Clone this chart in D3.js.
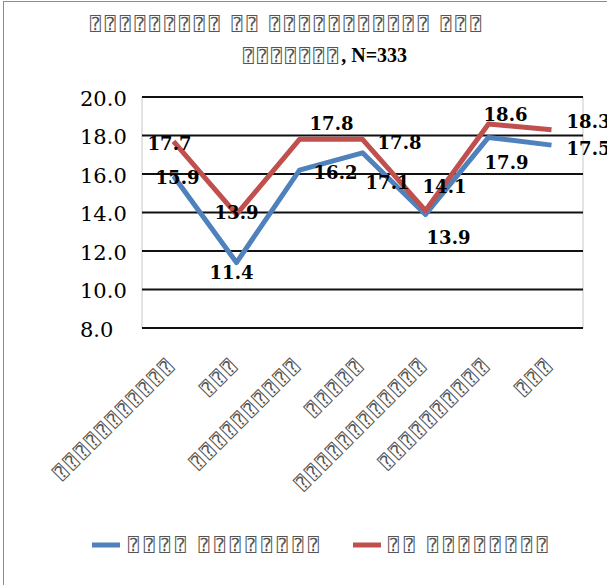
<!DOCTYPE html>
<html>
<head>
<meta charset="utf-8">
<script src="https://cdn.jsdelivr.net/npm/d3@7"></script>
<style>
  body { margin: 0; background: #fff; }
  svg { display: block; }
</style>
</head>
<body>
<svg id="chart" width="607" height="585"></svg>
<script>
// Categories along the x axis (glyphs the source font could not show)
const categories = [
  "⍰⍰⍰⍰⍰⍰⍰⍰⍰⍰⍰",
  "⍰⍰⍰",
  "⍰⍰⍰⍰⍰⍰⍰⍰⍰⍰",
  "⍰⍰⍰⍰⍰",
  "⍰⍰⍰⍰⍰⍰⍰⍰⍰⍰⍰⍰",
  "⍰⍰⍰⍰⍰⍰⍰⍰⍰⍰",
  "⍰⍰⍰"
];
// Series names and mean scores
const seriesNames = ["⍰⍰⍰⍰ ⍰⍰⍰⍰⍰⍰⍰⍰", "⍰⍰ ⍰⍰⍰⍰⍰⍰⍰⍰"];
const blueValues = [15.9, 11.4, 16.2, 17.1, 13.9, 17.9, 17.5];
const redValues  = [17.7, 13.9, 17.8, 17.8, 14.1, 18.6, 18.3];
// Y axis ticks
const yTicks = [8, 10, 12, 14, 16, 18, 20];
// Title: first line, then second line split into its two runs
const titleLine1 = "⍰⍰⍰⍰⍰⍰⍰⍰⍰ ⍰⍰ ⍰⍰⍰⍰⍰⍰⍰⍰⍰⍰⍰ ⍰⍰⍰";
const titleLine2 = ["⍰⍰⍰⍰⍰⍰⍰", ", N=333"];

// Label nudges (pixels from each point), kept apart from the data
const blueLabelShift = [[4, 2], [-5, 10], [36, 2], [25, 30], [23, 23], [18, 25], [37, 3]];
const redLabelShift  = [[-4, 2], [0, -2], [32, -16], [37, 3], [19, -24], [17, -9], [37, -8]];

const colors = ["#4F81BD", "#C0504D"];
const serif = "'DejaVu Serif', serif";
const boxFont = "'DejaVu Sans Mono', monospace";

const svg = d3.select("#chart");

// outer frame
svg.append("rect")
  .attr("x", 3.5).attr("y", 1.5)
  .attr("width", 640).attr("height", 640)
  .attr("fill", "#fff").attr("stroke", "#8c8c8c").attr("stroke-width", 1);

const plot = { left: 142, right: 583, top: 97, bottom: 328 };

// categories are positioned by index (some labels look alike)
const x = d3.scalePoint().domain(d3.range(categories.length)).range([plot.left, plot.right]).padding(0.5);
const y = d3.scaleLinear().domain([8, 20]).range([plot.bottom, plot.top]);

// plot area side borders
svg.append("g").selectAll("line")
  .data([plot.left, plot.right])
  .join("line")
  .attr("x1", d => d).attr("x2", d => d)
  .attr("y1", plot.top).attr("y2", plot.bottom)
  .attr("stroke", "#c8c8c8").attr("stroke-width", 1);

// horizontal gridlines
svg.append("g").selectAll("line")
  .data(yTicks)
  .join("line")
  .attr("x1", plot.left).attr("x2", plot.right)
  .attr("y1", d => y(d)).attr("y2", d => y(d))
  .attr("stroke", "#111").attr("stroke-width", 1.8);

// y axis labels
const yAxis = d3.axisLeft(y).tickValues(yTicks).tickFormat(d3.format(".1f")).tickSize(0);
const yg = svg.append("g").attr("transform", `translate(${plot.left},0)`).call(yAxis);
yg.select(".domain").remove();
yg.selectAll("text")
  .attr("x", 80 - plot.left)
  .attr("dy", "0.4em")
  .attr("text-anchor", "start")
  .style("font-family", serif)
  .style("font-size", "21px")
  .attr("fill", "#000");

// x axis category labels, rotated
svg.append("g").selectAll("text")
  .data(categories)
  .join("text")
  .attr("transform", (d, i) => `translate(${x(i) + 3.5},365) rotate(-45)`)
  .attr("text-anchor", "end")
  .style("font-family", boxFont)
  .style("font-size", "18px")
  .style("letter-spacing", "4px")
  .attr("fill", "#555")
  .text(d => d);

// lines
const line = d3.line()
  .x((d, i) => x(i))
  .y(d => y(d));

[blueValues, redValues].forEach((vals, k) => {
  svg.append("path")
    .datum(vals)
    .attr("d", line)
    .attr("fill", "none")
    .attr("stroke", colors[k])
    .attr("stroke-width", 5)
    .attr("stroke-linejoin", "round");
});

// value labels
[[blueValues, blueLabelShift], [redValues, redLabelShift]].forEach(([vals, shift]) => {
  svg.append("g").selectAll("text")
    .data(vals)
    .join("text")
    .attr("x", (d, i) => x(i) + shift[i][0])
    .attr("y", (d, i) => y(d) + shift[i][1])
    .attr("dy", "0.36em")
    .attr("text-anchor", "middle")
    .style("font-family", serif)
    .style("font-size", "18px")
    .style("font-weight", "bold")
    .attr("fill", "#000")
    .text(d => d3.format(".1f")(d));
});

// title
svg.append("text")
  .attr("x", 90).attr("y", 30)
  .style("font-family", boxFont)
  .style("font-size", "18px")
  .style("letter-spacing", "4px")
  .style("word-spacing", "-6.8px")
  .attr("fill", "#555")
  .text(titleLine1);

const t2 = svg.append("text").attr("x", 243).attr("y", 62);
t2.append("tspan")
  .style("font-family", boxFont)
  .style("font-size", "18px")
  .style("letter-spacing", "3.2px")
  .attr("fill", "#555")
  .text(titleLine2[0]);
t2.append("tspan")
  .style("font-family", "'Liberation Serif', serif")
  .style("font-size", "20px")
  .style("font-weight", "bold")
  .attr("fill", "#000")
  .text(titleLine2[1]);

// legend
const legendX = [[92, 128], [353, 388]];
const lg = svg.append("g").selectAll("g")
  .data(seriesNames)
  .join("g");
lg.append("line")
  .attr("x1", (d, i) => legendX[i][0]).attr("x2", (d, i) => legendX[i][0] + 28)
  .attr("y1", 545).attr("y2", 545)
  .attr("stroke", (d, i) => colors[i]).attr("stroke-width", 5);
lg.append("text")
  .attr("x", (d, i) => legendX[i][1])
  .attr("y", 551)
  .style("font-family", boxFont)
  .style("font-size", "18px")
  .style("letter-spacing", "4.8px")
  .style("word-spacing", "-7.6px")
  .attr("fill", "#555")
  .text(d => d);
</script>
</body>
</html>
